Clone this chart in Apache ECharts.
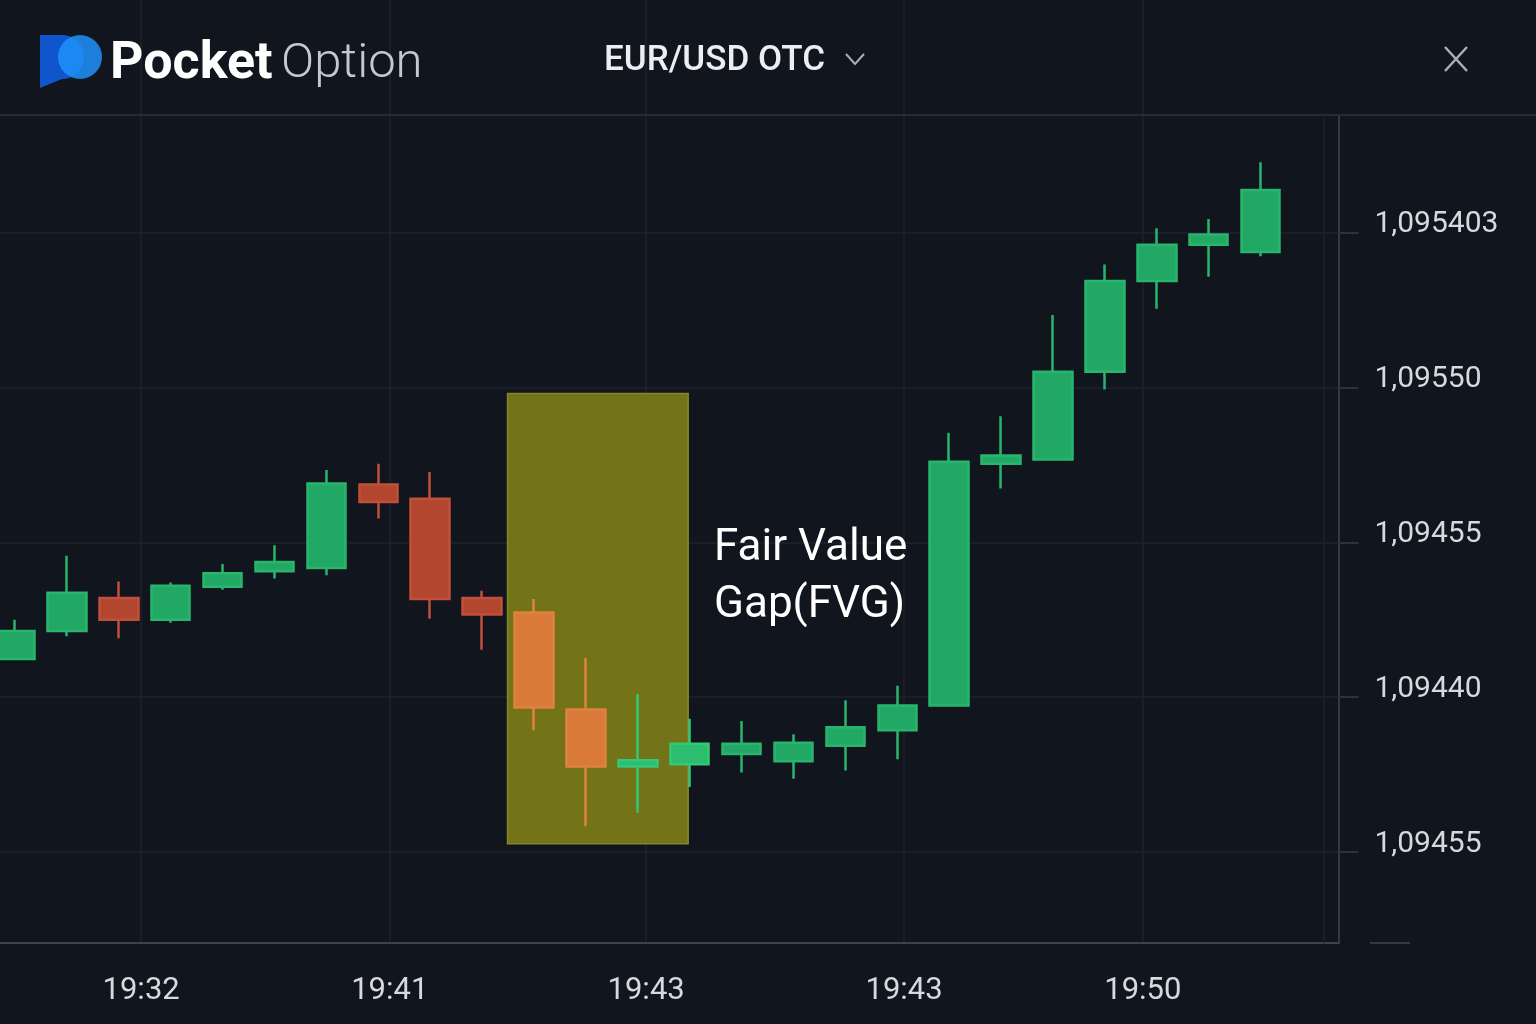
<!DOCTYPE html>
<html>
<head>
<meta charset="utf-8">
<title>EUR/USD OTC - Fair Value Gap</title>
<script src="https://cdn.jsdelivr.net/npm/echarts@6/dist/echarts.min.js"></script>
<style>
  html, body { margin: 0; padding: 0; background: #11151d; }
  #main { width: 1536px; height: 1024px; }
</style>
</head>
<body>
<div id="main"></div>
<script>
// candle slots (last slot left empty, like the reference)
var candleIds = [];
for (var n = 1; n <= 26; n++) candleIds.push('c' + n);

var opens  = [1.094287, 1.094314, 1.094346, 1.094325, 1.094357, 1.094372, 1.094375, 1.094456, 1.094442, 1.094346,
              1.094332, 1.094238, 1.094183, 1.094185, 1.094195, 1.094188, 1.094203, 1.094218, 1.094242, 1.094476,
              1.094480, 1.094565, 1.094653, 1.094688, 1.094681];
var closes = [1.094314, 1.094351, 1.094325, 1.094358, 1.094370, 1.094381, 1.094457, 1.094439, 1.094345, 1.094330,
              1.094240, 1.094183, 1.094189, 1.094205, 1.094205, 1.094206, 1.094221, 1.094242, 1.094478, 1.094484,
              1.094565, 1.094653, 1.094688, 1.094698, 1.094741];
var lows   = [1.094287, 1.094309, 1.094307, 1.094322, 1.094354, 1.094365, 1.094368, 1.094423, 1.094326, 1.094296,
              1.094218, 1.094125, 1.094138, 1.094163, 1.094177, 1.094171, 1.094179, 1.094190, 1.094242, 1.094452,
              1.094480, 1.094548, 1.094626, 1.094657, 1.094677];
var highs  = [1.094325, 1.094387, 1.094362, 1.094361, 1.094379, 1.094397, 1.094470, 1.094476, 1.094468, 1.094353,
              1.094345, 1.094288, 1.094253, 1.094229, 1.094227, 1.094214, 1.094247, 1.094261, 1.094506, 1.094522,
              1.094620, 1.094669, 1.094704, 1.094713, 1.094768];

// candles that sit inside the gap zone
var fvgCandles = [10, 11, 12, 13];
// gap zone: x in candle-index units, y in price
var fvgX = [9.49, 12.97];
var fvgY = [1.094108, 1.094544];

// axis ticks (labels are as printed on the chart)
var yTickValues = [1.09410, 1.09425, 1.09440, 1.09455, 1.09470];
var yTickLabels = ['1,09455', '1,09440', '1,09455', '1,09550', '1,095403'];
var xTickPos    = [2.43, 7.22, 12.16, 17.13, 21.73];
var xTickLabels = ['19:32', '19:41', '19:43', '19:43', '19:50'];

var yMin = 1.094012, yMax = 1.094925;

var candleData = [];
for (var i = 0; i < opens.length; i++) {
  var item = { value: [opens[i], closes[i], lows[i], highs[i]] };
  if (fvgCandles.indexOf(i) >= 0) {
    var down = closes[i] < opens[i];
    var fill = down ? '#d97a38' : '#2dbd70';
    var edge = down ? '#df8240' : '#34c878';
    item.itemStyle = { color: fill, borderColor: edge, color0: fill, borderColor0: edge };
  }
  candleData.push(item);
}

function nearestIdx(arr, v) {
  var best = 0;
  for (var k = 1; k < arr.length; k++) {
    if (Math.abs(arr[k] - v) < Math.abs(arr[best] - v)) best = k;
  }
  return best;
}

// "D" part of the logo
var logoPts = [[40, 88], [40, 35], [62, 35]];
for (var a = -80; a <= 90; a += 10) {
  var r = a * Math.PI / 180;
  logoPts.push([62 + 22 * Math.cos(r), 57 + 22 * Math.sin(r)]);
}

var gridColor = '#1d222c';
var textColor = '#d6d9de';

var chart = echarts.init(document.getElementById('main'), null, { renderer: 'canvas' });

var option = {
  backgroundColor: '#11151d',
  animation: false,
  grid: { left: -10.95, right: 197.5, top: 0, bottom: 81, containLabel: false, outerBoundsMode: 'none' },
  xAxis: [
    {
      type: 'category',
      data: candleIds,
      boundaryGap: true,
      show: false
    },
    {
      type: 'value',
      min: -0.5,
      max: 25.5,
      position: 'bottom',
      axisLine: { show: true, onZero: false, lineStyle: { color: '#3c424e', width: 2 } },
      axisTick: { show: false, customValues: xTickPos },
      axisLabel: {
        customValues: xTickPos,
        color: textColor,
        fontSize: 31,
        fontFamily: 'Roboto',
        margin: 33,
        formatter: function (v) { return xTickLabels[nearestIdx(xTickPos, v)]; }
      },
      splitLine: { show: true, lineStyle: { color: gridColor, width: 1.5 } }
    }
  ],
  yAxis: {
    type: 'value',
    position: 'right',
    min: yMin,
    max: yMax,
    axisLine: { show: true, onZero: false, lineStyle: { color: '#333944', width: 2 } },
    axisTick: { show: true, inside: false, length: 20, customValues: yTickValues,
                lineStyle: { color: '#2c323c', width: 2 } },
    axisLabel: {
      customValues: yTickValues,
      color: textColor,
      fontSize: 30,
      fontFamily: 'Roboto',
      margin: 36,
      verticalAlign: 'bottom',
      lineHeight: 16,
      formatter: function (v) { return yTickLabels[nearestIdx(yTickValues, v)]; }
    },
    splitLine: { show: true, lineStyle: { color: gridColor, width: 1.5 } }
  },
  series: [
    {
      name: 'FVG zone',
      type: 'line',
      xAxisIndex: 1,
      z: 1,
      showSymbol: false,
      lineStyle: { width: 0 },
      data: [[fvgX[0], fvgY[0]]],
      markArea: {
        silent: true,
        itemStyle: { color: '#737318', borderColor: '#86862a', borderWidth: 1.5 },
        data: [[{ xAxis: fvgX[0], yAxis: fvgY[0] }, { xAxis: fvgX[1], yAxis: fvgY[1] }]]
      }
    },
    {
      name: 'EUR/USD OTC',
      type: 'candlestick',
      xAxisIndex: 0,
      z: 3,
      barWidth: 39,
      itemStyle: {
        color: '#22a865', borderColor: '#29b56d',
        color0: '#b3462f', borderColor0: '#c0503a',
        borderWidth: 2.5
      },
      data: candleData
    }
  ],
  graphic: [
    // price axis line stops at the header
    { type: 'rect', shape: { x: 1330, y: 0, width: 16, height: 114 }, style: { fill: '#11151d' }, z: 9 },
    // header separator
    { type: 'line', shape: { x1: 0, y1: 115, x2: 1536, y2: 115 }, style: { stroke: '#262b35', lineWidth: 2 }, z: 10 },
    // faint inner border next to the price scale
    { type: 'line', shape: { x1: 1324, y1: 115, x2: 1324, y2: 943 }, style: { stroke: '#1c212a', lineWidth: 1.5 }, z: 10 },
    { type: 'line', shape: { x1: 1370, y1: 943, x2: 1410, y2: 943 }, style: { stroke: '#333944', lineWidth: 2 }, z: 10 },
    // logo
    { type: 'polygon', shape: { points: logoPts }, style: { fill: '#0f55cc' }, z: 10 },
    { type: 'circle', shape: { cx: 80, cy: 57, r: 22 }, style: { fill: 'rgba(30,146,250,0.85)' }, z: 11 },
    { type: 'text', left: 110, top: 39,
      style: { text: 'Pocket', fill: '#ffffff', font: 'bold 52px Roboto' }, z: 10 },
    { type: 'text', left: 281, top: 40,
      style: { text: 'Option', fill: '#c4c8cf', font: '300 49px Roboto' }, z: 10 },
    // instrument selector
    { type: 'text', left: 604, top: 44,
      style: { text: 'EUR/USD OTC', fill: '#eceef2', font: '500 35px Roboto' }, z: 10 },
    { type: 'polyline', shape: { points: [[846, 54], [855, 64], [864, 54]] },
      style: { stroke: '#a9afb9', lineWidth: 2, fill: null }, z: 10 },
    // close button
    { type: 'line', shape: { x1: 1445, y1: 47, x2: 1467, y2: 71 }, style: { stroke: '#a9afb9', lineWidth: 2.5 }, z: 10 },
    { type: 'line', shape: { x1: 1467, y1: 47, x2: 1445, y2: 71 }, style: { stroke: '#a9afb9', lineWidth: 2.5 }, z: 10 },
    // annotation
    { type: 'text', left: 714, top: 527,
      style: { text: 'Fair Value', fill: '#ffffff', font: '44px Roboto' }, z: 10 },
    { type: 'text', left: 714, top: 584,
      style: { text: 'Gap(FVG)', fill: '#ffffff', font: '44px Roboto' }, z: 10 }
  ]
};

chart.setOption(option);
</script>
</body>
</html>
